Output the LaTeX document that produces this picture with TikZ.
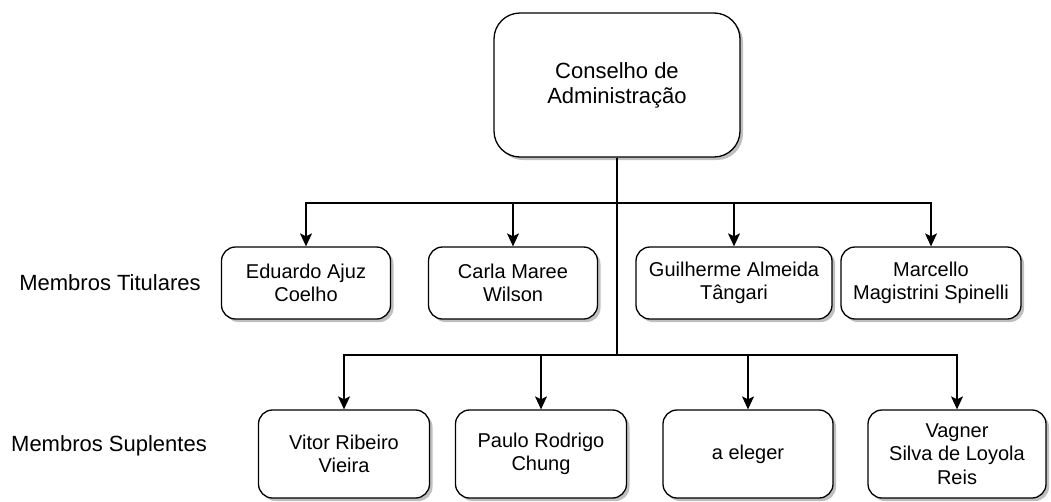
\documentclass[tikz,border=0pt]{standalone}
\usepackage{fontspec}
\setmainfont{Liberation Sans}
\usetikzlibrary{arrows.meta,shadows}
\tikzset{
  orgbox/.style={draw=black,line width=1.3pt,fill=white,rounded corners=14pt,align=center,
    font=\fontsize{20}{23.5}\selectfont,inner sep=2pt,
    drop shadow={shadow xshift=3pt,shadow yshift=-3pt,fill=black,opacity=0.25}},
  topbox/.style={orgbox,rounded corners=26pt,font=\fontsize{22}{25}\selectfont},
  rowlabel/.style={font=\fontsize{22}{25}\selectfont,anchor=base},
  conn/.style={line width=1.3pt,draw=black},
  arr/.style={conn,-{Stealth[length=13pt,width=12pt,inset=3pt]}}
}
\begin{document}
\begin{tikzpicture}[x=1pt,y=-1pt]
\useasboundingbox (0,0) rectangle (1051,501);
\fill[white] (0,0) rectangle (1051,501);
% top
\node[topbox,minimum width=246pt,minimum height=144pt] (top) at (617,85) {Conselho de\\Administração};
% row 1
\node[orgbox,minimum width=169pt,minimum height=72pt] (b1) at (306,283) {Eduardo Ajuz\\Coelho};
\node[orgbox,minimum width=169pt,minimum height=72pt] (b2) at (513,283) {Carla Maree\\Wilson};
\node[orgbox,minimum width=196pt,minimum height=72pt] (b3) at (734,283) {Guilherme Almeida\\Tângari};
\node[orgbox,minimum width=180pt,minimum height=72pt] (b4) at (931,283) {Marcello\\Magistrini Spinelli};
% row 2
\node[orgbox,minimum width=171pt,minimum height=88pt] (b5) at (344,454) {Vitor Ribeiro\\Vieira};
\node[orgbox,minimum width=171pt,minimum height=88pt] (b6) at (541,454) {Paulo Rodrigo\\Chung};
\node[orgbox,minimum width=170pt,minimum height=88pt] (b7) at (748,454) {a eleger};
\node[orgbox,minimum width=178pt,minimum height=88pt] (b8) at (957,454) {Vagner\\Silva de Loyola\\Reis};
% labels
\node[rowlabel] (lt) at (110,290) {Membros Titulares};
\node[rowlabel] (ls) at (109,451) {Membros Suplentes};
% connectors
\coordinate (j1) at (617,203);
\coordinate (j2) at (617,355);
\draw[conn,line width=2pt] (top.south) -- (j2);
\foreach \b in {b1,b2,b3,b4} \draw[arr] (j1) -| (\b.north);
\foreach \b in {b5,b6,b7,b8} \draw[arr] (j2) -| (\b.north);
\end{tikzpicture}
\end{document}
